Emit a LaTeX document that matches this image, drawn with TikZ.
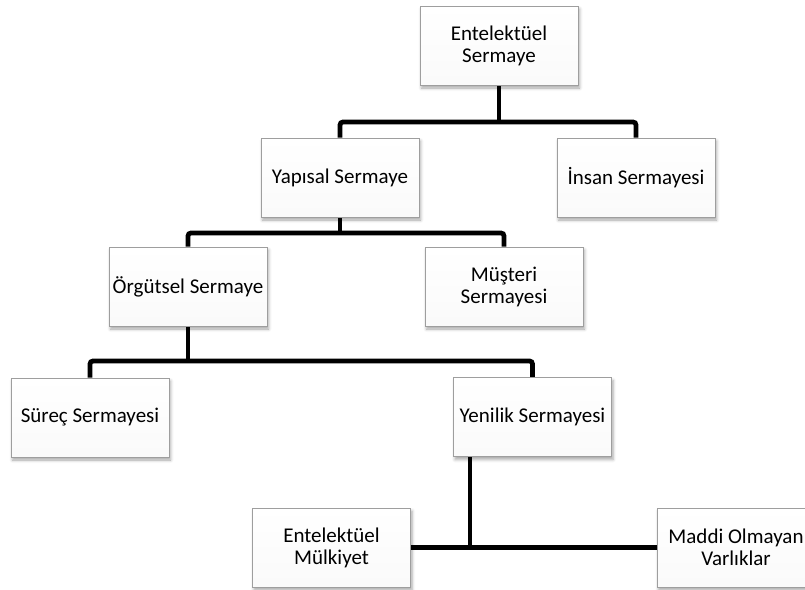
\documentclass[tikz,border=0pt]{standalone}
\usepackage{fontspec}
\setmainfont{Carlito}
\usetikzlibrary{shadows.blur,backgrounds}

\tikzset{
  box/.style={
    draw=black!38, line width=0.9pt,
    top color=white, bottom color=black!2,
    minimum width=158pt, minimum height=79pt,
    inner sep=0pt, align=center,
    font=\fontsize{21}{22}\selectfont,
    blur shadow={shadow xshift=1.5pt, shadow yshift=-3pt,
                 shadow blur radius=3pt, shadow opacity=35}
  },
  conn/.style={line width=4.8pt, black, rounded corners=3pt}
}

\begin{document}
\begin{tikzpicture}[x=1pt,y=-1pt]
  \useasboundingbox (0,0) rectangle (805,589);

  % bus heights
  \coordinate (b1) at (0,122);
  \coordinate (b2) at (0,233);
  \coordinate (b3) at (0,361);

  % boxes
  \node[box] (top) at (499,45.5)  {Entelektüel\\Sermaye};
  \node[box] (yap) at (340,177.5) {Yapısal Sermaye};
  \node[box] (ins) at (636,177.5) {İnsan Sermayesi};
  \node[box] (org) at (188,286.5) {Örgütsel Sermaye};
  \node[box] (mus) at (504,286.5) {Müşteri\\Sermayesi};
  \node[box] (sur) at (90,417.5)  {Süreç Sermayesi};
  \node[box] (yen) at (532.5,417) {Yenilik Sermayesi};
  \node[box] (mul) at (331.5,547.5) {Entelektüel\\Mülkiyet};
  \node[box] (mad) at (736,547.5) {Maddi Olmayan\\Varlıklar};

  % connectors behind the boxes
  \coordinate (yb) at ([xshift=-62.5pt]yen.south);
  \begin{scope}[on background layer]
    \draw[conn] (top.south) -- (top.south |- b1);
    \draw[conn] (yap.north) |- (b1 -| ins.north) -- (ins.north);
    \draw[conn] (yap.south) -- (yap.south |- b2);
    \draw[conn] (org.north) |- (b2 -| mus.north) -- (mus.north);
    \draw[conn] (org.south) -- (org.south |- b3);
    \draw[conn] (sur.north) |- (b3 -| yen.north) -- (yen.north);
    \draw[conn] (mul.east) -- (mad.west);
    \draw[conn] (yb) -- (yb |- mul.east);
  \end{scope}
\end{tikzpicture}
\end{document}
